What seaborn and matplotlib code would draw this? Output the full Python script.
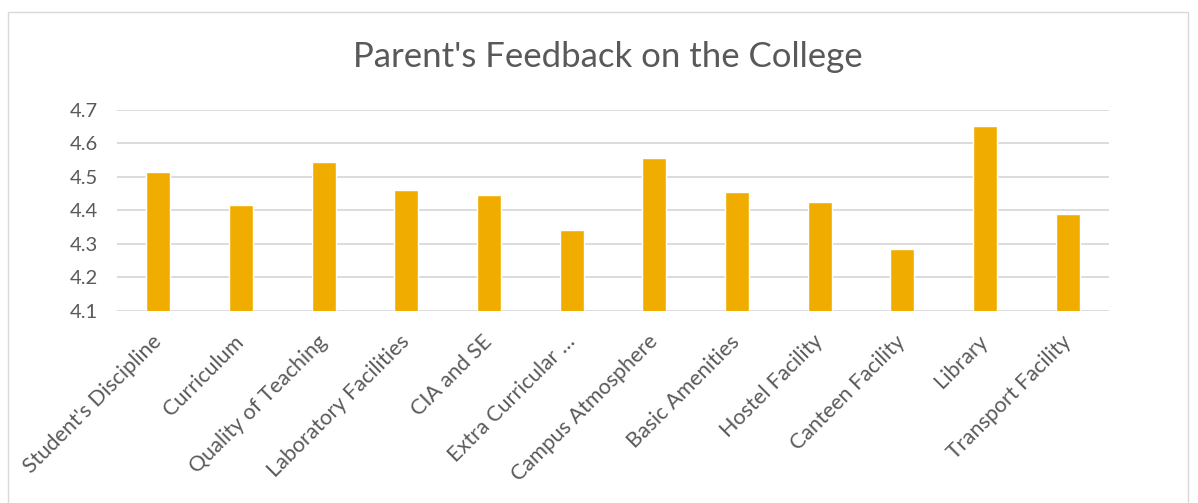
import numpy as np
import pandas as pd
import seaborn as sns
import matplotlib.pyplot as plt
from matplotlib.patches import Rectangle

categories = ["Student's Discipline", "Curriculum", "Quality of Teaching",
              "Laboratory Facilities", "CIA and SE", "Extra Curricular …",
              "Campus Atmosphere", "Basic Amenities", "Hostel Facility",
              "Canteen Facility", "Library", "Transport Facility"]
scores = [4.515, 4.415, 4.545, 4.46, 4.445, 4.34,
          4.555, 4.455, 4.425, 4.284, 4.652, 4.389]
yticks = [4.1, 4.2, 4.3, 4.4, 4.5, 4.6, 4.7]

TEXT = '#595959'
GRID = '#D9D9D9'
BAR = '#F0AD00'

sns.set_theme(style='white')
plt.rcParams['font.family'] = ['Lato', 'DejaVu Sans']

df = pd.DataFrame({'aspect': categories, 'score': scores})

fig = plt.figure(figsize=(11.98, 5.03), dpi=100)
ax = fig.add_axes([117 / 1198, 1 - 310.7 / 503, (1109 - 117) / 1198, (310.7 - 109.7) / 503])

sns.barplot(data=df, x='aspect', y='score', color=BAR, width=0.29,
            saturation=1, ax=ax, zorder=3)

ax.set_ylim(4.1, 4.7)
ax.set_yticks(yticks)
ax.set_yticklabels([f'{t:.1f}' for t in yticks], color=TEXT, fontsize=14.5)
ax.yaxis.grid(True, color=GRID, linewidth=1.3, zorder=0)
ax.set_axisbelow(True)
ax.set_xlabel('')
ax.set_ylabel('')
ax.tick_params(axis='y', length=0, pad=14)
ax.tick_params(axis='x', length=0, pad=20)
ax.set_xticks(range(len(categories)))
ax.set_xticklabels(categories, rotation=45, ha='right', va='center',
                   rotation_mode='anchor', color=TEXT, fontsize=15.5)
for side in ['top', 'right', 'left', 'bottom']:
    ax.spines[side].set_visible(False)

fig.text(608 / 1198, 1 - 57 / 503, "Parent's Feedback on the College", ha='center',
         va='center', fontsize=25, color=TEXT)

fig.patches.append(Rectangle((8 / 1198, -0.05), (1188 - 8) / 1198, 1.05 - 12 / 503,
                             transform=fig.transFigure, fill=False,
                             edgecolor=GRID, linewidth=1))

fig.savefig('out.png', dpi=100)
